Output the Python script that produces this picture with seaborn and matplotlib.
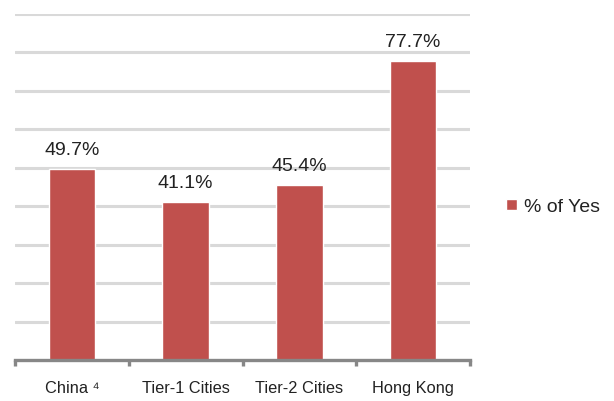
import matplotlib
matplotlib.use("Agg")
import matplotlib.pyplot as plt
import seaborn as sns

# data
categories = ["China \u2074", "Tier-1 Cities", "Tier-2 Cities", "Hong Kong"]
values = [49.7, 41.1, 45.4, 77.7]
series_name = "% of Yes"
grid_ticks = [10, 20, 30, 40, 50, 60, 70, 80, 90]

bar_color = "#C0504D"
grid_color = "#D9D9D9"
axis_color = "#878787"
text_color = "#222222"

sns.set_style("white")
plt.rcParams["font.family"] = ["Liberation Sans", "DejaVu Sans"]

fig = plt.figure(figsize=(6.14, 4.01), dpi=100)
ax = fig.add_axes([15 / 614, 41 / 401, 455 / 614, 346.5 / 401])

sns.barplot(x=categories, y=values, color=bar_color, width=0.41,
            saturation=1, label=series_name, ax=ax, zorder=3)

ax.set_ylim(0, 90)
ax.set_xlim(-0.5, len(categories) - 0.5)

# 横グリッド
for g in grid_ticks:
    ax.axhline(g, color=grid_color, linewidth=2.2, zorder=1, solid_capstyle="round")

ax.set_yticks([])
ax.set_ylabel("")
ax.set_xlabel("")
for s in ["left", "right", "top"]:
    ax.spines[s].set_visible(False)
ax.spines["bottom"].set_color(axis_color)
ax.spines["bottom"].set_linewidth(2.4)
ax.spines["bottom"].set_zorder(4)

# 区切りの目盛り
ax.set_xticks([i - 0.5 for i in range(len(categories) + 1)], minor=True)
ax.tick_params(axis="x", which="minor", bottom=True, length=4, width=2.4,
               color=axis_color, direction="out")
ax.tick_params(axis="x", which="major", length=0, pad=15, labelsize=11.8, labelcolor=text_color)

# 値ラベル
ax.bar_label(ax.containers[0], labels=[f"{v}%" for v in values],
             padding=7, fontsize=14, color=text_color)

ax.legend(loc="center left", bbox_to_anchor=(506 / 614, 1 - 207 / 401),
          bbox_transform=fig.transFigure, frameon=False, fontsize=14,
          handlelength=0.55, handleheight=0.55, handletextpad=0.35,
          borderpad=0, borderaxespad=0, labelcolor=text_color)

fig.savefig("out.png", dpi=100)
